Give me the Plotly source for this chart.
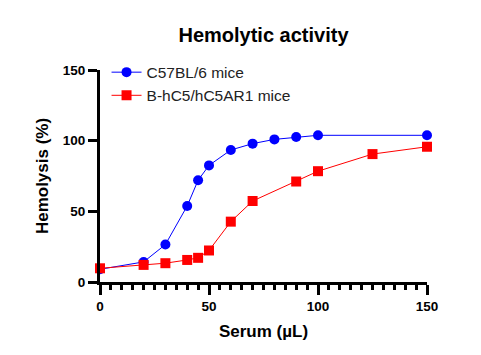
import plotly.graph_objects as go

serum_blue = [0, 20, 30, 40, 45, 50, 60, 70, 80, 90, 100, 150]
hemo_blue = [9.0, 14.2, 26.5, 53.8, 72.0, 82.5, 93.4, 97.9, 100.9, 102.6, 103.8, 103.8]

serum_red = [0, 20, 30, 40, 45, 50, 60, 70, 90, 100, 125, 150]
hemo_red = [9.7, 12.1, 13.3, 15.6, 17.1, 22.3, 42.7, 57.3, 71.1, 78.4, 90.5, 95.7]

x_ticks = [0, 50, 100, 150]
y_ticks = [0, 50, 100, 150]

FONT = "Liberation Sans, Arial, sans-serif"

fig = go.Figure()
fig.add_trace(go.Scatter(
    x=serum_blue, y=hemo_blue, mode="lines+markers", name="C57BL/6 mice",
    line=dict(color="#0000FF", width=1),
    marker=dict(symbol="circle", size=10, color="#0000FF"),
    cliponaxis=False,
))
fig.add_trace(go.Scatter(
    x=serum_red, y=hemo_red, mode="lines+markers", name="B-hC5/hC5AR1 mice",
    line=dict(color="#FF0000", width=1),
    marker=dict(symbol="square", size=10, color="#FF0000"),
    cliponaxis=False,
))

fig.update_layout(
    width=481, height=355,
    margin=dict(l=100, r=54, t=70, b=73),
    plot_bgcolor="white", paper_bgcolor="white",
    font=dict(family=FONT, color="black"),
    title=dict(text="<b>Hemolytic activity</b>", x=(100 + 327 / 2) / 481, xanchor="center",
               y=1 - 35 / 355, yanchor="middle", yref="container",
               font=dict(size=20, family=FONT, color="black")),
    showlegend=True,
    legend=dict(x=0.02, y=1.068, xanchor="left", yanchor="top",
                bgcolor="rgba(0,0,0,0)", font=dict(size=15.5, family=FONT, color="#222")),
)

fig.update_xaxes(
    range=[0, 150], tickvals=x_ticks, ticktext=[str(v) for v in x_ticks],
    showline=True, linecolor="black", linewidth=3,
    ticks="outside", ticklen=10, tickwidth=3, tickcolor="black",
    minor=dict(dtick=5, ticks="outside", ticklen=5, tickwidth=3, tickcolor="black"),
    showgrid=False, zeroline=False,
    tickfont=dict(size=13.5, family=FONT, color="black", weight="bold"),
    title=dict(text="<b>Serum (µL)</b>", font=dict(size=17, family=FONT, color="black"), standoff=12),
)
fig.update_yaxes(
    range=[0, 150], tickvals=y_ticks, ticktext=[str(v) for v in y_ticks],
    showline=True, linecolor="black", linewidth=3,
    ticks="outside", ticklen=9, tickwidth=3, tickcolor="black",
    showgrid=False, zeroline=False,
    tickfont=dict(size=13.5, family=FONT, color="black", weight="bold"),
    title=dict(text="<b>Hemolysis (%)</b>", font=dict(size=17, family=FONT, color="black"), standoff=10),
)

fig.write_html("out.html", config={"displayModeBar": False},
               post_script="document.body.style.margin='0';document.body.style.overflow='hidden';")
